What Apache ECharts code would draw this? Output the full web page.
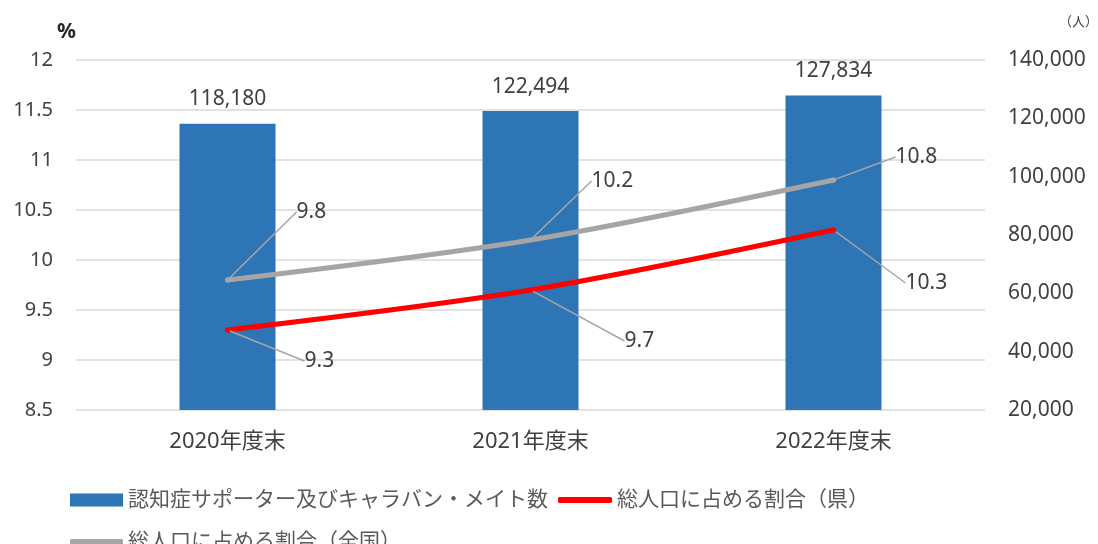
<!DOCTYPE html>
<html lang="ja">
<head>
<meta charset="utf-8">
<title>認知症サポーター及びキャラバン・メイト数</title>
<script src="https://cdn.jsdelivr.net/npm/echarts@6/dist/echarts.min.js"></script>
<style>
  html, body { margin: 0; padding: 0; background: #ffffff; }
  #chart { width: 1098px; height: 544px; }
</style>
</head>
<body>
<div id="chart"></div>
<script>
// Fiscal-year categories and values
const categories = ['2020年度末', '2021年度末', '2022年度末'];
const supporters = [118180, 122494, 127834];          // persons (right axis)
const shareKen = [9.3, 9.7, 10.3];                     // % of total population, prefecture
const shareZenkoku = [9.8, 10.2, 10.8];                // % of total population, nationwide

const barName = '認知症サポーター及びキャラバン・メイト数';
const kenName = '総人口に占める割合（県）';
const zenName = '総人口に占める割合（全国）';

const FONT = "'Noto Sans', 'Noto Sans CJK JP', sans-serif";
const TEXT = '#404040';
const LEADER = '#a6a6a6';

// Callout placement for point labels (pixel offset of label's left edge from the point)
const kenOffsets = [[77, 31], [94, 51], [72, 53]];
const zenOffsets = [[69, -68], [61, -59], [62, -23]];

function callout(offsets) {
  return function (params) {
    const o = offsets[params.dataIndex];
    const cx = params.rect.x + params.rect.width / 2;
    const cy = params.rect.y + params.rect.height / 2;
    const x = cx + o[0];
    const y = cy + o[1];
    return {
      x: x,
      y: y,
      align: 'left',
      verticalAlign: 'middle',
      labelLinePoints: [[cx, cy], [x - 21, y], [x - 9, y]]
    };
  };
}

const fmt = v => v.toLocaleString('en-US');

const chart = echarts.init(document.getElementById('chart'), null, { renderer: 'canvas' });

chart.setOption({
  animation: false,
  textStyle: { fontFamily: FONT },
  grid: { left: 76, right: 113, top: 60, bottom: 134, containLabel: false, outerBoundsMode: 'none' },
  legend: [
    {
      data: [{ name: barName, icon: 'rect' }],
      left: 65, top: 484,
      itemWidth: 53, itemHeight: 13,
      textStyle: { color: '#595959', fontSize: 21, fontFamily: FONT, lineHeight: 22 }
    },
    {
      data: [{ name: kenName, icon: 'roundRect' }],
      left: 553, top: 484,
      itemWidth: 54, itemHeight: 6,
      textStyle: { color: '#595959', fontSize: 21, fontFamily: FONT, lineHeight: 22 }
    },
    {
      data: [{ name: zenName, icon: 'roundRect' }],
      left: 65, top: 526,
      itemWidth: 53, itemHeight: 6,
      textStyle: { color: '#595959', fontSize: 21, fontFamily: FONT, lineHeight: 22 }
    }
  ],
  xAxis: {
    type: 'category',
    data: categories,
    axisTick: { show: false },
    axisLine: { show: false },
    axisLabel: { color: TEXT, fontSize: 22, margin: 21, fontFamily: FONT }
  },
  yAxis: [
    {
      type: 'value',
      min: 8.5, max: 12, interval: 0.5,
      name: '%',
      nameLocation: 'end',
      nameGap: 17,
      nameTextStyle: { color: '#262626', fontSize: 21, fontWeight: 'bold', align: 'right', fontFamily: FONT },
      axisLine: { show: false },
      axisTick: { show: false },
      axisLabel: { color: TEXT, fontSize: 20, margin: 23, fontFamily: FONT },
      splitLine: { lineStyle: { color: '#d9d9d9', width: 1.5 } }
    },
    {
      type: 'value',
      min: 20000, max: 140000, interval: 20000,
      name: '（人）',
      nameLocation: 'end',
      nameGap: 31,
      nameTextStyle: { color: TEXT, fontSize: 13, align: 'left', padding: [0, 0, 0, 74], fontFamily: FONT },
      axisLine: { show: false },
      axisTick: { show: false },
      axisLabel: { color: TEXT, fontSize: 21, margin: 23, formatter: fmt, fontFamily: FONT },
      splitLine: { show: false }
    }
  ],
  series: [
    {
      name: barName,
      type: 'bar',
      yAxisIndex: 1,
      data: supporters,
      barWidth: 96,
      itemStyle: { color: '#2e75b6' },
      label: {
        show: true, position: 'top', distance: 14,
        color: TEXT, fontSize: 21, fontFamily: FONT,
        formatter: p => fmt(p.value)
      },
      z: 1
    },
    {
      name: zenName,
      type: 'line',
      yAxisIndex: 0,
      data: shareZenkoku,
      smooth: 0.3,
      symbol: 'circle',
      symbolSize: 5,
      itemStyle: { color: '#a5a5a5' },
      lineStyle: { color: '#a5a5a5', width: 5, cap: 'round' },
      label: { show: true, color: TEXT, fontSize: 21, fontFamily: FONT },
      labelLine: { show: true, lineStyle: { color: LEADER, width: 1.5 } },
      labelLayout: callout(zenOffsets),
      z: 3
    },
    {
      name: kenName,
      type: 'line',
      yAxisIndex: 0,
      data: shareKen,
      smooth: 0.3,
      symbol: 'circle',
      symbolSize: 5,
      itemStyle: { color: '#ff0000' },
      lineStyle: { color: '#ff0000', width: 5, cap: 'round' },
      label: { show: true, color: TEXT, fontSize: 21, fontFamily: FONT },
      labelLine: { show: true, lineStyle: { color: LEADER, width: 1.5 } },
      labelLayout: callout(kenOffsets),
      z: 3
    }
  ]
});
</script>
</body>
</html>
